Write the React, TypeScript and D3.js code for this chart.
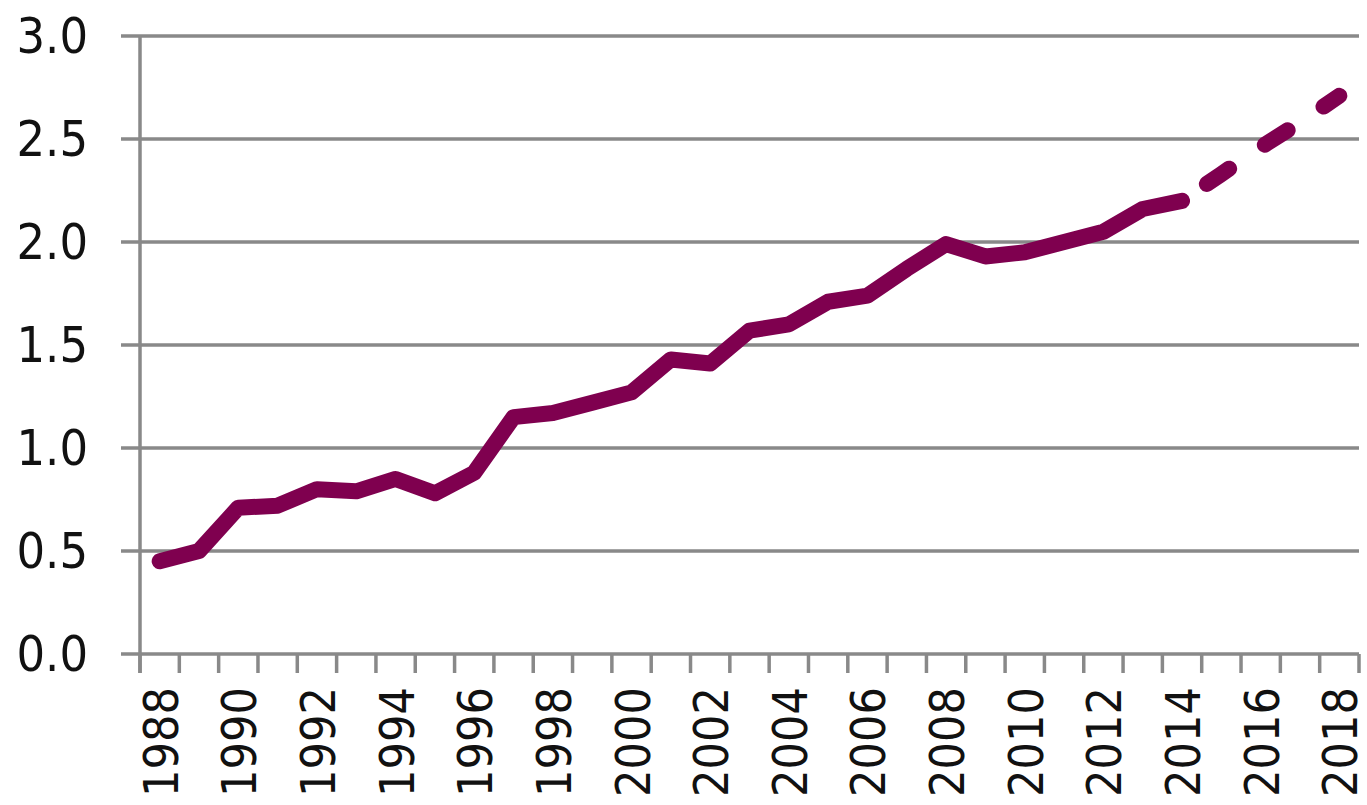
import React, { useEffect, useRef } from "react";
import { select, scaleBand, scaleLinear, line } from "d3";

const years = [
  "1988", "1989", "1990", "1991", "1992", "1993", "1994", "1995", "1996", "1997",
  "1998", "1999", "2000", "2001", "2002", "2003", "2004", "2005", "2006", "2007",
  "2008", "2009", "2010", "2011", "2012", "2013", "2014", "2015", "2016", "2017",
  "2018",
];

// observed values 1988-2014
const actualYears = years.slice(0, 27);
const actualValues = [
  0.45, 0.5, 0.71, 0.72, 0.8, 0.79, 0.85, 0.78, 0.88, 1.15, 1.17, 1.22, 1.27,
  1.43, 1.41, 1.57, 1.6, 1.71, 1.74, 1.87, 1.99, 1.93, 1.95, 2.0, 2.05, 2.16,
  2.2,
];

// projection 2014-2018 (dashed)
const projYears = ["2014", "2015", "2016", "2017", "2018"];
const projValues = [2.2, 2.33, 2.46, 2.58, 2.71];

const yTicks = [0, 0.5, 1, 1.5, 2, 2.5, 3];
const yTickLabels = ["0.0", "0.5", "1.0", "1.5", "2.0", "2.5", "3.0"];
const xTickLabels = years.filter((_, i) => i % 2 === 0);

const W = 1367;
const H = 805;
const FONT = "'DejaVu Sans Condensed', 'DejaVu Sans', sans-serif";
const LINE_COLOR = "#7f004f";
const GRID_COLOR = "#898989";

const App = () => {
  const svgRef = useRef(null);

  useEffect(() => {
    const svg = select(svgRef.current);
    svg.selectAll("*").remove();

    const left = 140;
    const right = 1359;
    const top = 36;
    const bottom = 654;

    const x = scaleBand().domain(years).range([left, right]).padding(0);
    const y = scaleLinear().domain([0, 3]).range([bottom, top]);
    const cx = (d: string) => (x(d) as number) + x.bandwidth() / 2;

    // horizontal gridlines (with outward ticks)
    svg
      .append("g")
      .selectAll("line")
      .data(yTicks)
      .enter()
      .append("line")
      .attr("x1", left - 19)
      .attr("x2", right)
      .attr("y1", (d) => y(d))
      .attr("y2", (d) => y(d))
      .attr("stroke", GRID_COLOR)
      .attr("stroke-width", 3.5);

    // y axis line
    svg
      .append("line")
      .attr("x1", left)
      .attr("x2", left)
      .attr("y1", top)
      .attr("y2", bottom + 19)
      .attr("stroke", GRID_COLOR)
      .attr("stroke-width", 3.5);

    // x ticks between categories
    const tickPos = years.map((d) => x(d) as number).concat([right]);
    svg
      .append("g")
      .selectAll("line")
      .data(tickPos)
      .enter()
      .append("line")
      .attr("x1", (d) => d)
      .attr("x2", (d) => d)
      .attr("y1", bottom)
      .attr("y2", bottom + 19)
      .attr("stroke", GRID_COLOR)
      .attr("stroke-width", 3.5);

    // y labels
    svg
      .append("g")
      .selectAll("text")
      .data(yTicks)
      .enter()
      .append("text")
      .attr("x", 88)
      .attr("y", (d) => y(d))
      .attr("text-anchor", "end")
      .attr("dominant-baseline", "central")
      .attr("font-family", FONT)
      .attr("font-size", 50)
      .attr("fill", "#111")
      .text((_, i) => yTickLabels[i]);

    // x labels, rotated
    svg
      .append("g")
      .selectAll("text")
      .data(xTickLabels)
      .enter()
      .append("text")
      .attr("transform", (d) => `translate(${cx(d) + 1},${bottom + 33}) rotate(-90)`)
      .attr("text-anchor", "end")
      .attr("dominant-baseline", "central")
      .attr("font-family", FONT)
      .attr("font-size", 48)
      .attr("fill", "#111")
      .text((d) => d);

    const lineGen = line<[string, number]>()
      .x((d) => cx(d[0]))
      .y((d) => y(d[1]));

    svg
      .append("path")
      .datum(actualYears.map((d, i) => [d, actualValues[i]] as [string, number]))
      .attr("d", lineGen)
      .attr("fill", "none")
      .attr("stroke", LINE_COLOR)
      .attr("stroke-width", 16)
      .attr("stroke-linejoin", "round")
      .attr("stroke-linecap", "round");

    svg
      .append("path")
      .datum(projYears.map((d, i) => [d, projValues[i]] as [string, number]))
      .attr("d", lineGen)
      .attr("fill", "none")
      .attr("stroke", LINE_COLOR)
      .attr("stroke-width", 16)
      .attr("stroke-linecap", "round")
      .attr("stroke-dasharray", "27 43")
      .attr("stroke-dashoffset", 40);
  }, []);

  return (
    <>
      <style>{"body{margin:0}"}</style>
      <svg ref={svgRef} width={W} height={H} style={{ display: "block", background: "#fff" }}></svg>
    </>
  );
};

export default App;
